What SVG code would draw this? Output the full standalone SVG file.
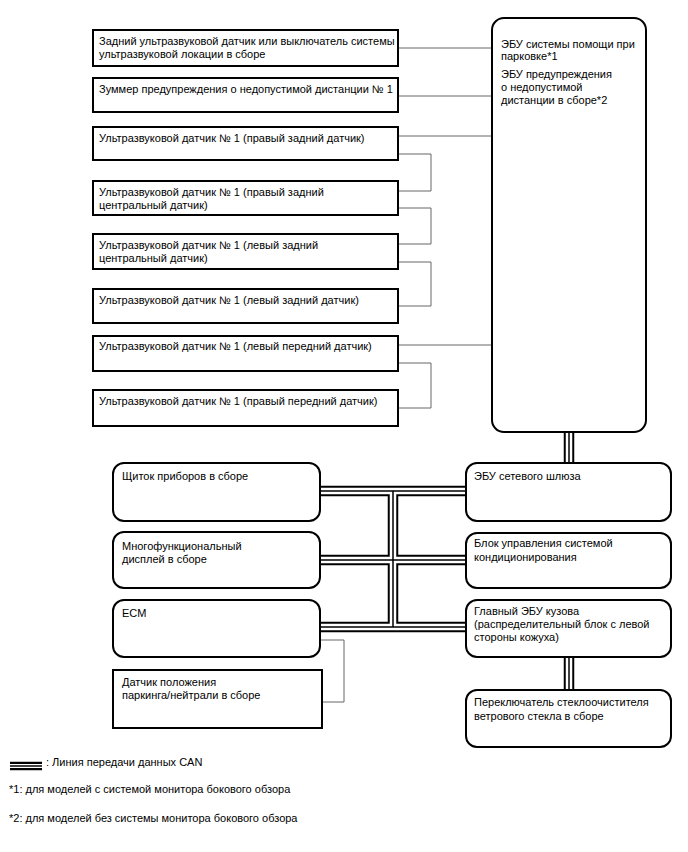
<svg xmlns="http://www.w3.org/2000/svg" xmlns:xlink="http://www.w3.org/1999/xlink" width="688" height="852" viewBox="0 0 688 852">
<style>
text{font-family:"Liberation Sans",Arial,sans-serif;font-size:11px;fill:#000}
.box{fill:#fff;stroke:#000;stroke-width:2}
.rbox{fill:#fff;stroke:#000;stroke-width:2}
.wire{fill:none;stroke:#666;stroke-width:1}
.bus path{fill:none}
.co{stroke:#000;stroke-width:10.5}
.cw{stroke:#fff;stroke-width:6.5}
.ci{stroke:#000;stroke-width:1.5}
</style>
<defs>
<g id="buspaths">
<path d="M569,432V463"/>
<path d="M320,491H466"/>
<path d="M320,560H466"/>
<path d="M320,627H466"/>
<path d="M393,491V627"/>
<path d="M569,657V690"/>
</g>
<g id="legendbus"><path d="M10,766H42"/></g>
</defs>
<g id="connectors">
<path class="wire" d="M398,48H492M398,96H492M398,136H492M398,345H492"/>
<path class="wire" d="M398,154H431V191H398M398,208H431V244H398M398,262H431V306H398M398,363H431V408H398"/>
<path class="wire" d="M320,640H344V702H322"/>
<g class="bus" fill="none">
<use xlink:href="#buspaths" class="co"/>
<use xlink:href="#buspaths" class="cw"/>
<use xlink:href="#buspaths" class="ci"/>
</g>
</g>
<g id="n-rear-sonar"><rect class="box" x="93" y="30" width="305" height="36"/><text x="99" y="45">Задний ультразвуковой датчик или выключатель системы</text><text x="99" y="58">ультразвуковой локации в сборе</text></g>
<g id="n-buzzer"><rect class="box" x="93" y="78" width="305" height="34"/><text x="99" y="93">Зуммер предупреждения о недопустимой дистанции № 1</text></g>
<g id="n-sensor-rr"><rect class="box" x="93" y="127" width="305" height="33"/><text x="99" y="142">Ультразвуковой датчик № 1 (правый задний датчик)</text></g>
<g id="n-sensor-rrc"><rect class="box" x="93" y="181" width="305" height="34"/><text x="99" y="196">Ультразвуковой датчик № 1 (правый задний</text><text x="99" y="209">центральный датчик)</text></g>
<g id="n-sensor-rlc"><rect class="box" x="93" y="234" width="305" height="35"/><text x="99" y="249">Ультразвуковой датчик № 1 (левый задний</text><text x="99" y="262">центральный датчик)</text></g>
<g id="n-sensor-rl"><rect class="box" x="93" y="289" width="305" height="34"/><text x="99" y="304">Ультразвуковой датчик № 1 (левый задний датчик)</text></g>
<g id="n-sensor-fl"><rect class="box" x="93" y="336" width="305" height="35"/><text x="99" y="350">Ультразвуковой датчик № 1 (левый передний датчик)</text></g>
<g id="n-sensor-fr"><rect class="box" x="93" y="390" width="305" height="36"/><text x="99" y="405">Ультразвуковой датчик № 1 (правый передний датчик)</text></g>
<g id="n-ecu"><rect class="rbox" x="492" y="18" width="154" height="414" rx="12"/><text x="501" y="48">ЭБУ системы помощи при</text><text x="501" y="60">парковке*1</text><text x="501" y="78">ЭБУ предупреждения</text><text x="501" y="91">о недопустимой</text><text x="501" y="104">дистанции в сборе*2</text></g>
<g id="n-cluster"><rect class="rbox" x="113" y="463" width="207" height="58" rx="11"/><text x="122" y="480">Щиток приборов в сборе</text></g>
<g id="n-display"><rect class="rbox" x="113" y="532" width="207" height="56" rx="11"/><text x="122" y="550">Многофункциональный</text><text x="122" y="563">дисплей в сборе</text></g>
<g id="n-ecm"><rect class="rbox" x="113" y="600" width="207" height="57" rx="11"/><text x="122" y="617">ECM</text></g>
<g id="n-pn"><rect class="box" x="113" y="670" width="209" height="58"/><text x="122" y="686">Датчик положения</text><text x="122" y="699">паркинга/нейтрали в сборе</text></g>
<g id="n-gateway"><rect class="rbox" x="466" y="463" width="205" height="58" rx="11"/><text x="474" y="480">ЭБУ сетевого шлюза</text></g>
<g id="n-ac"><rect class="rbox" x="466" y="533" width="205" height="55" rx="11"/><text x="474" y="547">Блок управления системой</text><text x="474" y="561">кондиционирования</text></g>
<g id="n-body"><rect class="rbox" x="466" y="600" width="205" height="57" rx="11"/><text x="474" y="615">Главный ЭБУ кузова</text><text x="474" y="628">(распределительный блок с левой</text><text x="474" y="641">стороны кожуха)</text></g>
<g id="n-wiper"><rect class="rbox" x="466" y="690" width="205" height="57" rx="11"/><text x="474" y="706">Переключатель стеклоочистителя</text><text x="474" y="720">ветрового стекла в сборе</text></g>
<g id="legend">
<use xlink:href="#legendbus" class="co" fill="none" style="stroke-width:8.5"/>
<use xlink:href="#legendbus" class="cw" fill="none" style="stroke-width:4"/>
<use xlink:href="#legendbus" class="ci" fill="none"/>
<text x="46" y="766">: Линия передачи данных CAN</text>
<text x="9" y="793">*1: для моделей с системой монитора бокового обзора</text>
<text x="9" y="822">*2: для моделей без системы монитора бокового обзора</text>
</g>
</svg>
